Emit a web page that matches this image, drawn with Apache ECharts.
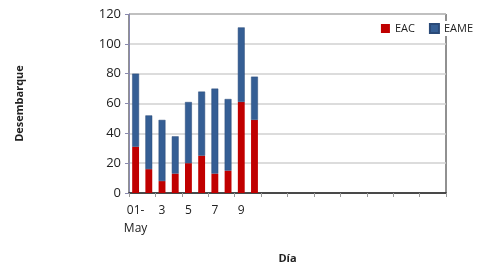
<!DOCTYPE html>
<html><head><meta charset="utf-8">
<script src="https://cdn.jsdelivr.net/npm/echarts@6/dist/echarts.min.js"></script>
<style>html,body{margin:0;padding:0;background:#fff}#c{width:483px;height:269px}</style>
</head><body><div id="c"></div>
<script>
var categories = ['01-\nMay','2','3','4','5','6','7','8','9','10','','','','','','','','','','','','','',''];
var eac  = [31, 16, 8, 13, 20, 25, 13, 15, 61, 49];
var eame = [49, 36, 41, 25, 41, 43, 57, 48, 50, 29];
var yTicks = [0, 20, 40, 60, 80, 100, 120];

var chart = echarts.init(document.getElementById('c'));
chart.setOption({
  animation: false,
  textStyle: {fontFamily: 'Open Sans, Liberation Sans, sans-serif'},
  grid: {left: 129, right: 37, top: 14, bottom: 76, show: true, borderColor: '#222', borderWidth: 1},
  legend: {
    right: 8, top: 21, itemWidth: 9, itemHeight: 9, itemGap: 14, icon: 'rect',
    backgroundColor: '#fff', padding: [2, 2],
    textStyle: {fontSize: 11, color: '#222'},
    data: ['EAC', 'EAME']
  },
  xAxis: {
    type: 'category', data: categories,
    name: 'Día', nameLocation: 'middle', nameGap: 60,
    nameTextStyle: {fontSize: 11, fontWeight: 'bold', color: '#222'},
    axisLine: {lineStyle: {color: '#222', width: 1.5}},
    axisTick: {show: true, length: 4, lineStyle: {color: '#999'}},
    axisLabel: {interval: 1, fontSize: 12, color: '#222', lineHeight: 18, margin: 9}
  },
  yAxis: {
    type: 'value', min: 0, max: 120, interval: 20,
    name: 'Desembarque', nameLocation: 'middle', nameGap: 104, nameRotate: 90,
    nameTextStyle: {fontSize: 11, fontWeight: 'bold', color: '#222'},
    axisLine: {show: true, lineStyle: {color: '#8a8ab0', width: 1}},
    axisTick: {show: true, length: 4, lineStyle: {color: '#8a8ab0'}},
    axisLabel: {fontSize: 13, color: '#222', margin: 8,
      formatter: function (v) { return yTicks.indexOf(v) >= 0 ? String(v) : ''; }},
    splitLine: {lineStyle: {color: '#d0d0d0', width: 1.5}}
  },
  series: [
    {name: 'EAC', type: 'bar', stack: 's', data: eac, barWidth: '52%',
     itemStyle: {color: '#c00000'}},
    {name: 'EAME', type: 'bar', stack: 's', data: eame, barWidth: '52%',
     itemStyle: {color: '#355e94', borderColor: '#2a4a78', borderWidth: 0.5}}
  ]
});
</script></body></html>
